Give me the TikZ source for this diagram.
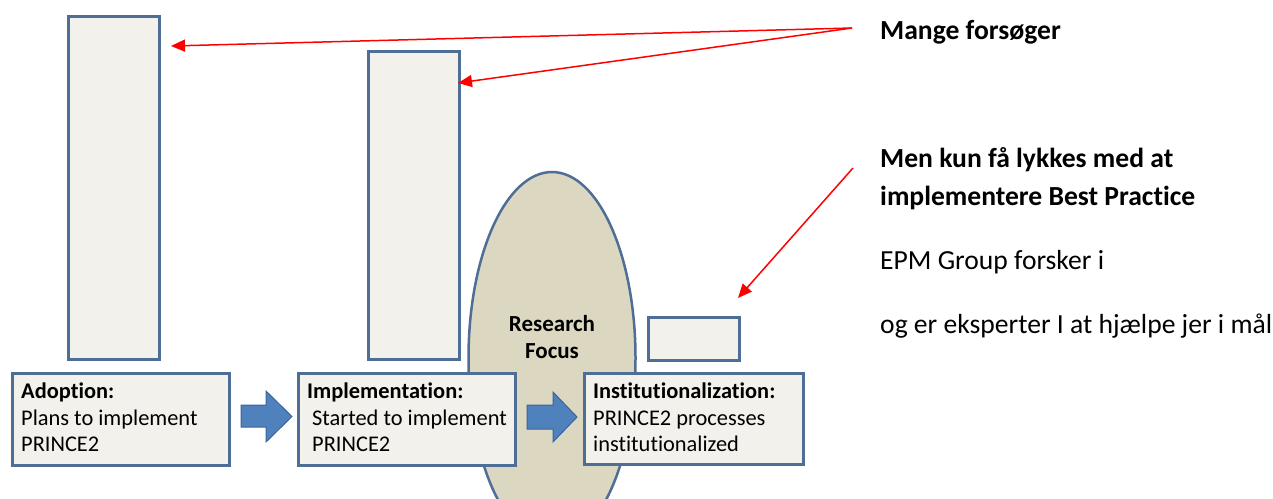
\documentclass[tikz,border=0pt]{standalone}
\usepackage{fontspec}
\setmainfont{Carlito}[Ligatures=NoCommon]
\usetikzlibrary{arrows.meta,shapes.geometric}
\definecolor{bord}{RGB}{79,110,150}
\definecolor{boxfill}{RGB}{242,241,236}
\definecolor{ellfill}{RGB}{220,215,193}
\definecolor{blk}{RGB}{79,129,189}
\definecolor{blkb}{RGB}{60,100,155}
\tikzset{
  stage/.style={draw=bord,fill=boxfill,line width=2.5pt,anchor=north west,inner sep=0pt},
  btxt/.style={anchor=base west,inner sep=0pt,font=\fontsize{22.4}{26}\selectfont},
  rtxt/.style={anchor=base west,inner sep=0pt,font=\fontsize{27.6}{31}\selectfont},
  redarr/.style={draw=red,line width=1.5pt,-{Triangle[length=14pt,width=12pt]}},
  blkarrow/.style={fill=blk,draw=blkb,line width=1pt}
}
\begin{document}
\begin{tikzpicture}[x=1pt,y=-1pt]
\useasboundingbox (0,0) rectangle (1273,498);
\clip (0,0) rectangle (1273,498);
% tall bars
\node[stage,minimum width=91pt,minimum height=343pt] (bar1) at (67,15) {};
\node[stage,minimum width=91pt,minimum height=308pt] (bar2) at (367,50) {};
\node[stage,minimum width=91pt,minimum height=43pt] (bar3) at (647,316) {};
% ellipse
\node[ellipse,draw=bord,fill=ellfill,line width=2.5pt,minimum width=167pt,minimum height=372pt,inner sep=0pt] (ell) at (552,358) {};
\node[anchor=base,inner sep=0pt,font=\fontsize{23}{26}\selectfont\bfseries] (rf1) at (552,331) {Research};
\node[anchor=base,inner sep=0pt,font=\fontsize{23}{26}\selectfont\bfseries] (rf2) at (552,358) {Focus};
% stage boxes
\node[stage,minimum width=217pt,minimum height=92pt] (adop) at (11,372) {};
\node[stage,minimum width=217pt,minimum height=92pt] (impl) at (297,372) {};
\node[stage,minimum width=219pt,minimum height=91pt] (inst) at (583,372) {};
\node[btxt] (a1) at (21,398) {\bfseries Adoption:};
\node[btxt] (a2) at (21,425) {Plans to implement};
\node[btxt] (a3) at (21,451) {PRINCE2};
\node[btxt] (i1) at (307,398) {\bfseries Implementation:};
\node[btxt] (i2) at (312,425) {Started to implement};
\node[btxt] (i3) at (312,451) {PRINCE2};
\node[btxt] (n1) at (593,398) {\bfseries Institutionalization:};
\node[btxt] (n2) at (593,425) {PRINCE2 processes};
\node[btxt] (n3) at (593,451) {institutionalized};
% block arrows
\draw[blkarrow] (241,405) -- (266,405) -- (266,391) -- (292,416.5) -- (266,442) -- (266,427) -- (241,427) -- cycle;
\draw[blkarrow] (527,405) -- (553,405) -- (553,392) -- (577,417) -- (553,442) -- (553,429) -- (527,429) -- cycle;
% right texts
\node[rtxt] (t1) at (880,39) {\bfseries Mange forsøger};
\node[rtxt] (t2) at (880,167) {\bfseries Men kun få lykkes med at};
\node[rtxt] (t3) at (880,205) {\bfseries implementere Best Practice};
\node[rtxt] (t4) at (880,269) {EPM Group forsker i};
\node[rtxt] (t5) at (880,333) {og er eksperter I at hjælpe jer i mål};
% red arrows
\coordinate (o1) at (852,28);
\coordinate (o2) at (853,168);
\coordinate (p1) at (171,46);
\coordinate (p2) at (458,83);
\coordinate (p3) at (738,298);
\draw[redarr] (o1) -- (p1);
\draw[redarr] (o1) -- (p2);
\draw[redarr] (o2) -- (p3);
\end{tikzpicture}
\end{document}
